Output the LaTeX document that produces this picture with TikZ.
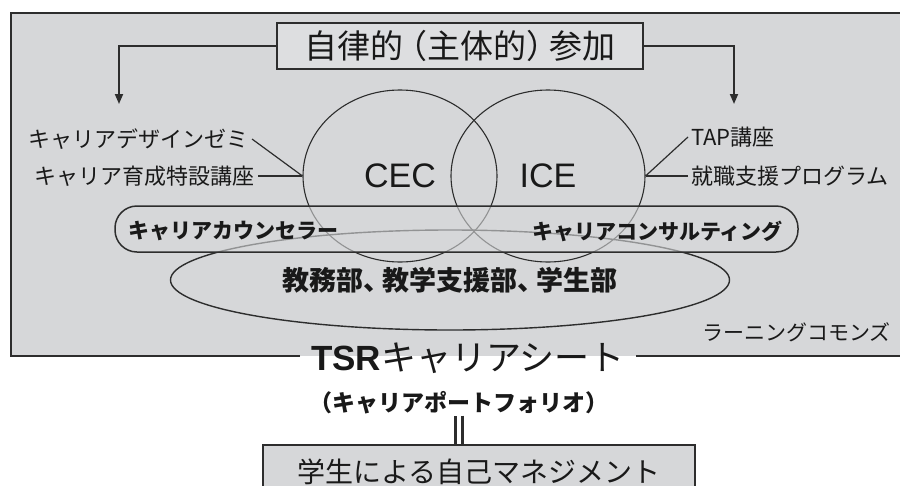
\documentclass[tikz,border=0pt]{standalone}
\usepackage{fontspec}
\setmainfont{Noto Sans CJK JP}
\newfontfamily\latfont{Liberation Sans}
\usetikzlibrary{shapes.geometric,arrows.meta}
\definecolor{bggray}{RGB}{214,215,217}
\definecolor{boxgray}{RGB}{221,222,224}
\definecolor{ln}{RGB}{45,45,45}
\definecolor{tx}{RGB}{25,25,25}
\newcommand{\jfs}[1]{\fontsize{#1}{#1}\selectfont}
\begin{document}
\begin{tikzpicture}[x=1pt,y=-1pt,
  lbl/.style={font=\jfs{22}, text=tx, inner sep=3pt},
  conn/.style={draw=ln, line width=1.2pt},
  arr/.style={draw=ln, line width=1.8pt, -{Triangle[length=10pt,width=8pt]}},
  circ/.style={ellipse, draw=ln, line width=1.1pt, minimum width=194pt, minimum height=172pt, inner sep=0pt, font=\latfont\jfs{34}, text=tx},
  frame/.style={draw=ln, line width=2.2pt},
  boxstyle/.style={draw=ln, line width=1.6pt, fill=boxgray, text=tx, inner sep=0pt}
]
\useasboundingbox (0,0) rectangle (900,485);
\clip (0,0) rectangle (900,485);
\fill[white] (0,0) rectangle (900,485);
% learning commons frame
\fill[bggray] (11,13) rectangle (910,356);
\coordinate (fbl) at (11,356);
\coordinate (ftl) at (11,13);
\coordinate (ftr) at (910,13);
\coordinate (fbr) at (910,356);
% title box
\node[boxstyle, minimum width=366pt, minimum height=46pt, font=\jfs{33}] (top) at (460,46) {自律的\kern-.3em（主体的）\kern-.3em参加};
\coordinate (al) at (119,104);
\coordinate (ar) at (734,104);
\draw[arr] (top.west) -| (al);
\draw[arr] (top.east) -| (ar);
% circles
\node[circ] (cec) at (400,176) {CEC};
\node[circ] (ice) at (548,176) {ICE};
% side labels
\node[lbl, anchor=east] (l1) at (252,139) {キャリアデザインゼミ};
\node[lbl, anchor=east] (l2) at (258,176) {キャリア育成特設講座};
\node[lbl, anchor=west] (r1) at (688,137) {TAP講座};
\node[lbl, anchor=west] (r2) at (688,176) {就職支援プログラム};
\draw[conn] (l1.east) -- (cec.west);
\draw[conn] (l2.east) -- (cec.west);
\draw[conn] (r1.west) -- (ice.east);
\draw[conn] (r2.west) -- (ice.east);
% big ellipse
\node[ellipse, draw=ln, line width=1.4pt, minimum width=559pt, minimum height=100pt, inner sep=0pt, font=\bfseries\jfs{27}, text=tx] (dept) at (450,280) {教務部、\kern-.3em教学支援部、\kern-.3em学生部};
% pill
\node[draw=ln, line width=1.5pt, fill=bggray, fill opacity=0.6, rounded corners=22pt, minimum width=683pt, minimum height=46pt, inner sep=0pt] (pill) at (456.5,229) {};
\node[lbl, font=\bfseries\jfs{21}, anchor=west] (couns) at (125,231) {キャリアカウンセラー};
\node[lbl, font=\bfseries\jfs{21}, anchor=east] (consult) at (786,231) {キャリアコンサルティング};
% learning commons label
\node[lbl, font=\jfs{21}, anchor=east] (lc) at (894,332) {ラーニングコモンズ};
% TSR
\node[inner xsep=11pt, inner ysep=0pt, text=tx, font=\jfs{35}] (tsr) at (468,358) {{\latfont\bfseries TSR}キャリアシート};
\draw[frame] (tsr.west |- fbl) -- (fbl) -- (ftl) -- (ftr) -- (fbr) -- (tsr.east |- fbr);
\node[font=\bfseries\jfs{23}, text=tx, inner sep=4pt] (pf) at (459,403) {（キャリアポートフォリオ）};
% bottom box
\node[boxstyle, fill=bggray, minimum width=432pt, minimum height=54pt, font=\jfs{28}] (self) at (479,472) {学生による自己マネジメント};
\draw[draw=ln, line width=2.8pt, double=white, double distance=4.5pt] ([yshift=3pt]pf.south) -- (pf.south |- self.north);
\end{tikzpicture}
\end{document}
